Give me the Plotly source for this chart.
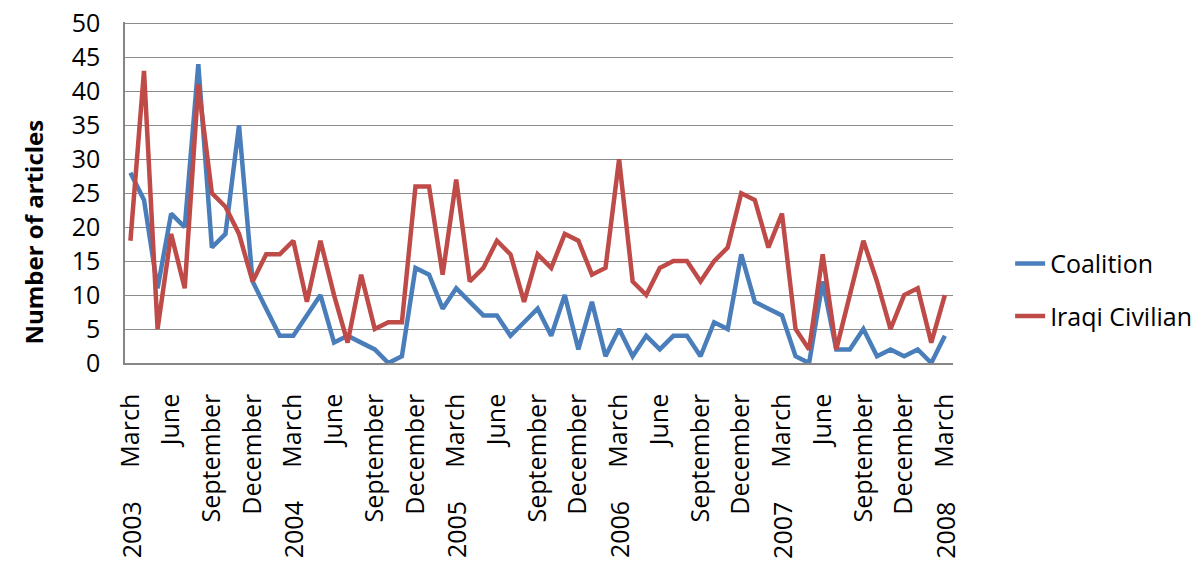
import plotly.graph_objects as go

# Monthly data, March 2003 .. March 2008 (61 months)
coalition = [28, 24, 11, 22, 20, 44, 17, 19, 35, 12, 8, 4, 4, 7, 10,
             3, 4, 3, 2, 0, 1, 14, 13, 8, 11, 9, 7, 7, 4, 6,
             8, 4, 10, 2, 9, 1, 5, 1, 4, 2, 4, 4, 1, 6, 5,
             16, 9, 8, 7, 1, 0, 12, 2, 2, 5, 1, 2, 1, 2, 0, 4]
iraqi_civilian = [18, 43, 5, 19, 11, 41, 25, 23, 19, 12, 16, 16, 18, 9, 18,
                  10, 3, 13, 5, 6, 6, 26, 26, 13, 27, 12, 14, 18, 16, 9,
                  16, 14, 19, 18, 13, 14, 30, 12, 10, 14, 15, 15, 12, 15, 17,
                  25, 24, 17, 22, 5, 2, 16, 2, 10, 18, 12, 5, 10, 11, 3, 10]

tick_positions = list(range(0, 61, 3))
tick_labels = ["March", "June", "September", "December"] * 5 + ["March"]
year_positions = [0, 12, 24, 36, 48, 60]
year_labels = ["2003", "2004", "2005", "2006", "2007", "2008"]
y_ticks = [0, 5, 10, 15, 20, 25, 30, 35, 40, 45, 50]

FONT = "Open Sans"
x = list(range(len(coalition)))

fig = go.Figure()
fig.add_trace(go.Scatter(x=x, y=coalition, mode="lines", name="Coalition",
                         legendgroup="a",
                         line=dict(color="#4A7EBB", width=4.5)))
fig.add_trace(go.Scatter(x=x, y=iraqi_civilian, mode="lines", name="Iraqi Civilian",
                         legendgroup="b",
                         line=dict(color="#BE4B48", width=4.5)))

annotations = []
for pos, lab in zip(year_positions, year_labels):
    annotations.append(dict(x=pos, xref="x", y=-0.403, yref="paper",
                            text=lab, textangle=-90, showarrow=False,
                            xanchor="center", yanchor="top",
                            font=dict(family=FONT, size=25, color="#000000"),
                            borderpad=0))
annotations.append(dict(x=-0.111, xref="paper", y=0.383, yref="paper",
                        text="<b>Number of articles</b>", textangle=-90,
                        showarrow=False, xanchor="center", yanchor="middle",
                        font=dict(family=FONT, size=24, color="#000000")))

fig.update_layout(
    width=1200, height=582,
    margin=dict(l=117, r=255, t=14, b=227, autoexpand=False),
    paper_bgcolor="white", plot_bgcolor="white",
    font=dict(family=FONT, size=25, color="#000000"),
    showlegend=True,
    legend=dict(x=1.069, y=0.215, xanchor="left", yanchor="middle",
                traceorder="grouped", tracegroupgap=17,
                font=dict(family=FONT, size=25, color="#000000"),
                bgcolor="rgba(0,0,0,0)"),
    xaxis=dict(range=[-0.4, 60.6], tickmode="array",
               tickvals=tick_positions, ticktext=tick_labels,
               tickangle=-90, showgrid=False, zeroline=False,
               showline=True, linecolor="#868686", linewidth=1.5,
               ticks="", ticklabelstandoff=19, automargin=False,
               ticklabeloverflow="allow",
               tickfont=dict(family=FONT, size=25, color="#000000")),
    yaxis=dict(range=[0, 50.2], tickmode="array", tickvals=y_ticks,
               showgrid=True, gridcolor="#8C8C8C", gridwidth=1.3,
               zeroline=False, showline=True, linecolor="#868686",
               linewidth=1.5, ticks="", ticklabelstandoff=18, automargin=False,
               ticklabeloverflow="allow",
               tickfont=dict(family=FONT, size=25, color="#000000")),
    annotations=annotations,
)

fig.write_html("out.html")
